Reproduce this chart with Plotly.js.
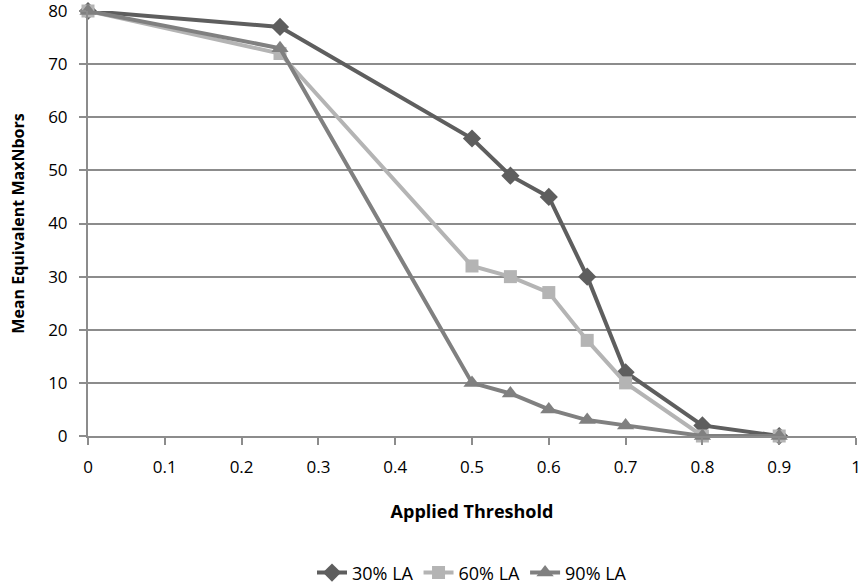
<!DOCTYPE html>
<html>
<head>
<meta charset="utf-8">
<script src="https://cdn.plot.ly/plotly-3.0.1.min.js"></script>
<style>html,body{margin:0;padding:0;background:#fff;}#chart{width:865px;height:588px;}</style>
</head>
<body>
<div id="chart"></div>
<script>
const thresholds = [0, 0.25, 0.5, 0.55, 0.6, 0.65, 0.7, 0.8, 0.9];
const la30 = [80, 77, 56, 49, 45, 30, 12, 2, 0];
const la60 = [80, 72, 32, 30, 27, 18, 10, 0, 0];
const la90 = [80, 73, 10, 8, 5, 3, 2, 0, 0];
const seriesNames = ["30% LA", "60% LA", "90% LA"];
const xTicks = [0, 0.1, 0.2, 0.3, 0.4, 0.5, 0.6, 0.7, 0.8, 0.9, 1];
const xTickText = ["0", "0.1", "0.2", "0.3", "0.4", "0.5", "0.6", "0.7", "0.8", "0.9", "1"];

const font = "Open Sans, Lato, sans-serif";
const traces = [
  {x: thresholds, y: la30, name: seriesNames[0], mode: "lines+markers", cliponaxis: false,
   line: {color: "#5e5e5e", width: 4}, marker: {symbol: "diamond", size: 14, color: "#5e5e5e"}},
  {x: thresholds, y: la60, name: seriesNames[1], mode: "lines+markers", cliponaxis: false,
   line: {color: "#b4b4b4", width: 4}, marker: {symbol: "square", size: 13, color: "#b4b4b4"}},
  {x: thresholds, y: la90, name: seriesNames[2], mode: "lines+markers", cliponaxis: false,
   line: {color: "#808080", width: 4}, marker: {symbol: "triangle-up", size: 15, color: "#808080"}}
];
const layout = {
  width: 865, height: 588,
  margin: {l: 88, r: 9, t: 11, b: 152, autoexpand: false},
  paper_bgcolor: "#fff", plot_bgcolor: "#fff",
  font: {family: font, size: 17, color: "#000"},
  showlegend: true,
  legend: {orientation: "h", x: 0.5, xanchor: "center", y: -0.322, yanchor: "middle",
           font: {family: font, size: 18}, traceorder: "normal"},
  xaxis: {range: [0, 1], tickvals: xTicks, ticktext: xTickText, showgrid: false, zeroline: false,
          showline: true, linecolor: "#8c8c8c", linewidth: 2, ticks: "outside", ticklen: 7,
          tickcolor: "#8c8c8c", tickwidth: 2, tickfont: {size: 17}, ticklabelstandoff: 8,
          ticklabeloverflow: "allow", automargin: false,
          title: {text: "<b>Applied Threshold</b>", font: {family: font, size: 18}, standoff: 28}},
  yaxis: {range: [0, 80], dtick: 10, showgrid: true, gridcolor: "#8c8c8c", gridwidth: 1.5,
          zeroline: false, showline: true, linecolor: "#8c8c8c", linewidth: 2,
          ticks: "outside", ticklen: 7, tickcolor: "#8c8c8c", tickwidth: 2, tickfont: {size: 17},
          ticklabelstandoff: 8, ticklabeloverflow: "allow", automargin: false,
          title: {text: "<b>Mean Equivalent MaxNbors</b>", font: {family: font, size: 16}, standoff: 20}}
};
Plotly.newPlot("chart", traces, layout, {displayModeBar: false});
</script>
</body>
</html>
